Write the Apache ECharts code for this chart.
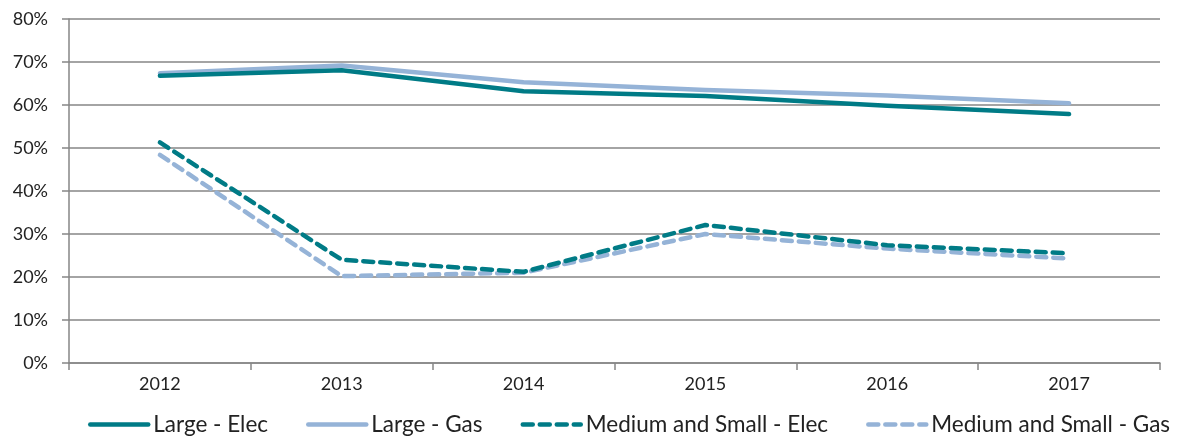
<!DOCTYPE html>
<html><head><meta charset="utf-8">
<script src="https://cdn.jsdelivr.net/npm/echarts@6/dist/echarts.min.js"></script>
<style>html,body{margin:0;padding:0;background:#fff}#c{width:1179px;height:440px}</style>
</head><body><div id="c"></div>
<script>
const categories = ['2012','2013','2014','2015','2016','2017'];
const largeElec = [66.8, 68.1, 63.2, 62.1, 59.8, 57.9];
const largeGas = [67.4, 69.2, 65.3, 63.5, 62.2, 60.4];
const msElec = [51.3, 24.0, 21.2, 32.1, 27.4, 25.5];
const msGas = [48.4, 20.2, 21.0, 30.0, 26.6, 24.3];
const yTicks = [0, 10, 20, 30, 40, 50, 60, 70, 80];

const teal = '#007B86';
const blue = '#95B3D7';
const font = 'Lato, "Open Sans", sans-serif';
const chart = echarts.init(document.getElementById('c'));
function s(name, data, color, dashed, z) {
  return {
    name, type: 'line', data, symbol: 'none', smooth: false,
    lineStyle: { color, width: 4.5, type: dashed ? [10, 7] : 'solid', cap: 'round', join: 'round' },
    itemStyle: { color }, z
  };
}
chart.setOption({
  animation: false,
  grid: { left: 69, right: 19, top: 19, bottom: 77, containLabel: false },
  xAxis: {
    type: 'category', data: categories, boundaryGap: true,
    axisLine: { lineStyle: { color: '#868686', width: 1.5 } },
    axisTick: { show: true, length: 7, lineStyle: { color: '#868686', width: 1.5 } },
    axisLabel: { color: '#222', fontSize: 18, fontFamily: font, margin: 12 }
  },
  yAxis: {
    type: 'value', min: yTicks[0], max: yTicks[yTicks.length - 1], interval: 10,
    axisLine: { show: true, lineStyle: { color: '#868686', width: 1.5 } },
    axisTick: { show: true, length: 7, lineStyle: { color: '#868686', width: 1.5 } },
    splitLine: { lineStyle: { color: '#868686', width: 1.5 } },
    axisLabel: { color: '#222', fontSize: 18, fontFamily: font, margin: 21, formatter: v => v + '%' }
  },
  legend: {
    bottom: 4, left: 88, width: 1091, padding: 0, itemWidth: 58, itemHeight: 14, itemGap: 38,
    itemStyle: { opacity: 0 },
    lineStyle: { width: 4.5 },
    textStyle: { color: '#222', fontSize: 22.5, fontFamily: font },
    data: ['Large - Elec', 'Large - Gas', 'Medium and Small - Elec', 'Medium and Small - Gas']
  },
  series: [
    s('Large - Elec', largeElec, teal, false, 3),
    s('Large - Gas', largeGas, blue, false, 2),
    s('Medium and Small - Elec', msElec, teal, true, 3),
    s('Medium and Small - Gas', msGas, blue, true, 2)
  ]
});
</script></body></html>
